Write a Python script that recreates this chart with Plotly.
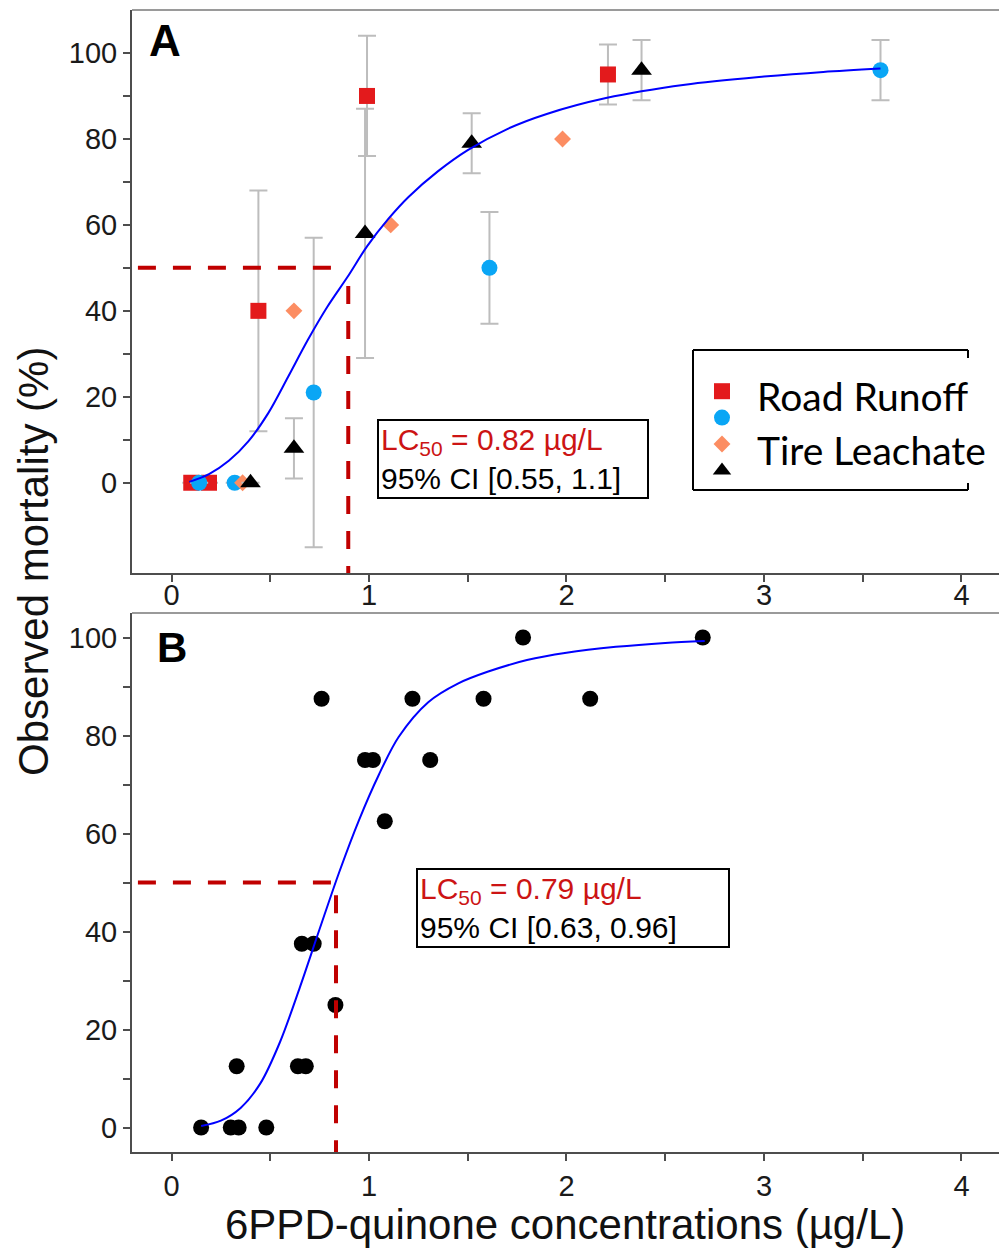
import plotly.graph_objects as go

# ---------------- Panel A data ----------------
road_sq_x = [0.10, 0.19, 0.44, 0.99, 2.21]
road_sq_y = [0, 0, 40, 90, 95]
road_sq_err = [None, None, 28, 14, 7]

road_ci_x = [0.14, 0.32, 0.72, 1.61, 3.59]
road_ci_y = [0, 0, 21, 50, 96]
road_ci_err = [None, None, 36, 13, 7]

tire_di_x = [0.36, 0.62, 1.11, 1.98]
tire_di_y = [0, 40, 60, 80]

tire_tr_x = [0.40, 0.62, 0.98, 1.52, 2.38]
tire_tr_y = [0, 8, 58, 79, 96]
tire_tr_err = [None, 7, 29, 7, 7]

fitA_x = [0.09, 0.19, 0.29, 0.39, 0.49, 0.59, 0.69, 0.79, 0.89, 0.99, 1.1, 1.2, 1.35, 1.5, 1.7, 1.9, 2.2, 2.6, 3.0, 3.3, 3.59]
fitA_y = [0.2, 2.0, 5.1, 9.7, 16.2, 24.6, 33.2, 41.0, 47.8, 55.0, 61.5, 66.5, 72.5, 77.4, 82.3, 85.8, 89.5, 92.6, 94.5, 95.6, 96.4]

# LC50 guide lines A: [x_start, x_end_horizontal, x_vertical, y_level, y_vertical_top]
guideA = [-0.17, 0.815, 0.895, 50, 45.8]

# ---------------- Panel B data ----------------
b_x = [0.15, 0.30, 0.34, 0.48, 0.33, 0.64, 0.68, 0.66, 0.72, 0.83,
       0.76, 0.98, 1.02, 1.08, 1.22, 1.31, 1.58, 1.78, 2.12, 2.69]
b_y = [0, 0, 0, 0, 12.5, 12.5, 12.5, 37.5, 37.5, 25,
       87.5, 75, 75, 62.5, 87.5, 75, 87.5, 100, 87.5, 100]

fitB_x = [0.15, 0.25, 0.35, 0.45, 0.55, 0.65, 0.75, 0.85, 0.95, 1.05, 1.15, 1.3, 1.45, 1.6, 1.8, 2.0, 2.25, 2.5, 2.7]
fitB_y = [0.3, 1.4, 4.0, 9.0, 17.5, 28.6, 40.5, 52.2, 62.8, 72.0, 79.7, 86.8, 90.6, 93.0, 95.4, 96.9, 98.1, 98.9, 99.3]

guideB = [-0.17, 0.808, 0.833, 50, 47.4]

x_ticks = [0, 1, 2, 3, 4]
x_minor = [0.5, 1.5, 2.5, 3.5]
y_ticks = [0, 20, 40, 60, 80, 100]
y_minor = [10, 30, 50, 70, 90]

lc_text_A = ["0.82", "0.55, 1.1"]
lc_text_B = ["0.79", "0.63, 0.96"]

# ---------------- styling ----------------
W, H = 999, 1249
ML, MR, MT, MB = 132, 0, 10, 97
PW = W - ML - MR
PH = H - MT - MB


def px(xp):
    return (xp - ML) / PW


def py(yp):
    return (H - MB - yp) / PH


FONT = "Liberation Sans, Arial, sans-serif"
RED = "#C00000"
ERR = "#BDBDBD"
AX = "#4d4d4d"

fig = go.Figure()

err_style = dict(type="data", color=ERR, thickness=2, width=9)

fig.add_trace(go.Scatter(x=road_sq_x, y=road_sq_y, mode="markers", name=" ",
                         marker=dict(symbol="square", size=16, color="#E31A1C"),
                         error_y=dict(array=road_sq_err, **err_style),
                         xaxis="x", yaxis="y", legendrank=1))
fig.add_trace(go.Scatter(x=road_ci_x, y=road_ci_y, mode="markers", name="  ",
                         marker=dict(symbol="circle", size=16, color="#0AA6F5"),
                         error_y=dict(array=road_ci_err, **err_style),
                         xaxis="x", yaxis="y", legendrank=2))
fig.add_trace(go.Scatter(x=tire_di_x, y=tire_di_y, mode="markers", name="   ",
                         marker=dict(symbol="diamond", size=13, color="#FC8D62"),
                         xaxis="x", yaxis="y", legendrank=3))
fig.add_trace(go.Scatter(x=tire_tr_x, y=tire_tr_y, mode="markers", name="    ",
                         marker=dict(symbol="triangle-up", size=18, color="black"),
                         error_y=dict(array=tire_tr_err, **err_style),
                         xaxis="x", yaxis="y", legendrank=4))
fig.add_trace(go.Scatter(x=fitA_x, y=fitA_y, mode="lines", showlegend=False,
                         line=dict(color="#0000FF", width=2, shape="spline", smoothing=0.9),
                         xaxis="x", yaxis="y"))

fig.add_trace(go.Scatter(x=b_x, y=b_y, mode="markers", showlegend=False,
                         marker=dict(symbol="circle", size=16, color="black"),
                         xaxis="x2", yaxis="y2"))
fig.add_trace(go.Scatter(x=fitB_x, y=fitB_y, mode="lines", showlegend=False,
                         line=dict(color="#0000FF", width=2, shape="spline", smoothing=0.9),
                         xaxis="x2", yaxis="y2"))

yA_dom = [py(573), 1.0]
yB_dom = [0.0, py(613)]

axis_common = dict(showline=True, linecolor=AX, linewidth=2, ticks="outside",
                   ticklen=7, tickwidth=2, tickcolor=AX, showgrid=False, zeroline=False,
                   tickfont=dict(family=FONT, size=29, color="#1a1a1a"))
minor_x = dict(tickvals=x_minor, ticks="outside", ticklen=7, tickwidth=2, tickcolor=AX)
minor_y = dict(tickvals=y_minor, ticks="outside", ticklen=7, tickwidth=2, tickcolor=AX)

fig.update_layout(
    width=W, height=H,
    margin=dict(l=ML, r=MR, t=MT, b=MB),
    paper_bgcolor="white", plot_bgcolor="white",
    xaxis=dict(domain=[0, 1], range=[-0.2, 4.19], anchor="y", tickvals=x_ticks,
               minor=minor_x, ticklabelstandoff=-12, **axis_common),
    yaxis=dict(domain=yA_dom, range=[-21, 110], anchor="x", tickvals=y_ticks,
               minor=minor_y, **axis_common),
    xaxis2=dict(domain=[0, 1], range=[-0.2, 4.19], anchor="y2", tickvals=x_ticks,
                minor=minor_x, **axis_common),
    yaxis2=dict(domain=yB_dom, range=[-5, 105], anchor="x2", tickvals=y_ticks,
                minor=minor_y, **axis_common),
    showlegend=True,
    legend=dict(x=px(702), y=py(373), xanchor="left", yanchor="top",
                font=dict(size=18, family=FONT), bgcolor="rgba(0,0,0,0)",
                tracegroupgap=0, itemclick=False),
)

shapes = []
# top borders
shapes.append(dict(type="line", xref="paper", yref="paper", x0=0, x1=1, y0=yA_dom[1], y1=yA_dom[1],
                   line=dict(color="#9a9a9a", width=2)))
shapes.append(dict(type="line", xref="paper", yref="paper", x0=0, x1=1, y0=yB_dom[1], y1=yB_dom[1],
                   line=dict(color="#9a9a9a", width=2)))
# LC50 guide lines
dash = "18px,17px"
for (xs, xh, xv, yl, yv), xr, yr, ymin in [(guideA, "x", "y", -21), (guideB, "x2", "y2", -5)]:
    shapes.append(dict(type="line", xref=xr, yref=yr, x0=xs, x1=xh, y0=yl, y1=yl,
                       line=dict(color=RED, width=4, dash=dash), layer="above"))
    shapes.append(dict(type="line", xref=xr, yref=yr, x0=xv, x1=xv, y0=yv, y1=ymin,
                       line=dict(color=RED, width=4, dash=dash), layer="above"))
# legend frame
lx0, lx1, ly0, ly1 = px(693), px(968), py(350), py(490)
lk = dict(color="black", width=2)
shapes += [
    dict(type="line", xref="paper", yref="paper", x0=lx0, x1=lx1, y0=ly0, y1=ly0, line=lk),
    dict(type="line", xref="paper", yref="paper", x0=lx0, x1=lx1, y0=ly1, y1=ly1, line=lk),
    dict(type="line", xref="paper", yref="paper", x0=lx0, x1=lx0, y0=ly0, y1=ly1, line=lk),
    dict(type="line", xref="paper", yref="paper", x0=lx1, x1=lx1, y0=ly0, y1=py(358), line=lk),
    dict(type="line", xref="paper", yref="paper", x0=lx1, x1=lx1, y0=py(483), y1=ly1, line=lk),
]
fig.update_layout(shapes=shapes)

annos = []
# panel letters
annos.append(dict(text="<b>A</b>", x=px(165), y=py(40), xref="paper", yref="paper",
                  xanchor="center", yanchor="middle",
                  showarrow=False, font=dict(family=FONT, size=44, color="black")))
annos.append(dict(text="<b>B</b>", x=px(172), y=py(647), xref="paper", yref="paper",
                  xanchor="center", yanchor="middle",
                  showarrow=False, font=dict(family=FONT, size=42, color="black")))
# LC50 boxes
for (lc, ci), x0, y0, wbox in [(lc_text_A, px(377), py(419), 264), (lc_text_B, px(416), py(868), 306)]:
    txt = (f"<span style='color:#CC1414'>LC<sub>50</sub> = {lc} µg/L</span><br>"
           f"95% CI [{ci}]")
    annos.append(dict(text=txt, x=x0, y=y0, xref="paper", yref="paper", xanchor="left",
                      yanchor="top", align="left", showarrow=False, width=wbox,
                      font=dict(family=FONT, size=30, color="black"),
                      bordercolor="black", borderwidth=2, borderpad=2, bgcolor="white"))
# legend labels
annos.append(dict(text="Road Runoff", x=px(755), y=py(396), xref="paper", yref="paper",
                  xanchor="left", yanchor="middle", showarrow=False,
                  font=dict(family="Lato, Carlito, sans-serif", size=39, color="black")))
annos.append(dict(text="Tire Leachate", x=px(755), y=py(450), xref="paper", yref="paper",
                  xanchor="left", yanchor="middle", showarrow=False,
                  font=dict(family="Lato, Carlito, sans-serif", size=39, color="black")))
# axis titles
annos.append(dict(text="Observed mortality (%)", x=px(33), y=py(562), xref="paper", yref="paper",
                  textangle=-90, showarrow=False, xanchor="center", yanchor="middle",
                  font=dict(family=FONT, size=42, color="#111")))
annos.append(dict(text="6PPD-quinone concentrations (µg/L)", x=px(565), y=py(1224), xref="paper",
                  yref="paper", showarrow=False, xanchor="center", yanchor="middle",
                  font=dict(family=FONT, size=42, color="#111")))
fig.update_layout(annotations=annos)

fig.write_html("out.html", config={"displayModeBar": False},
               post_script="document.body.style.margin='0px';")
